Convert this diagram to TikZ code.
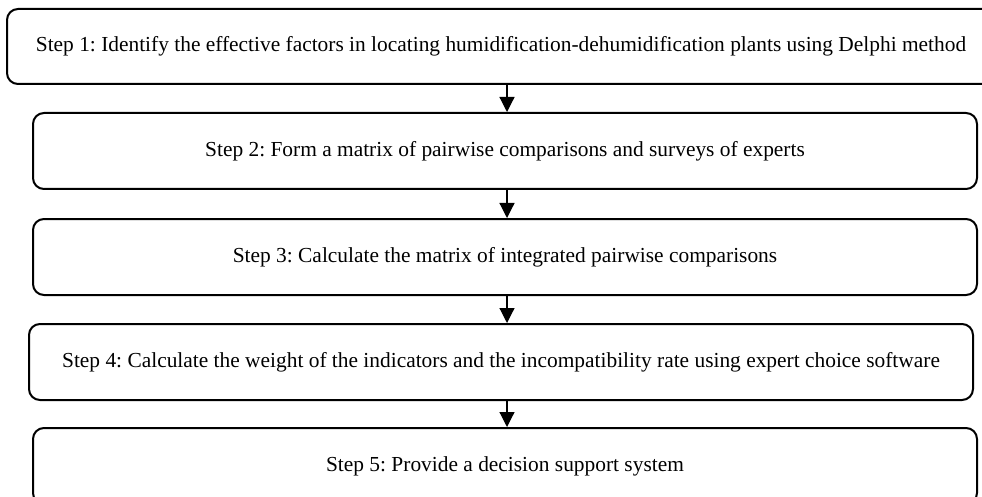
\documentclass[tikz,border=0pt]{standalone}
\usepackage{fontspec}
\setmainfont{Liberation Serif}
\usetikzlibrary{arrows.meta}
\frenchspacing
\begin{document}
\begin{tikzpicture}[x=1pt,y=1pt,
  stepbox/.style={draw, line width=2pt, rounded corners=11pt, minimum height=76pt, inner sep=0pt, align=center, font=\fontsize{21.4}{25}\selectfont},
  arr/.style={line width=1.2pt, -{Triangle[width=15pt,length=15pt]}}]
\useasboundingbox (0,0) rectangle (982,-497);
\node[stepbox, minimum width=988pt, minimum height=75pt] (b1) at (501,-46.5) {Step 1: Identify the effective factors in locating humidification-dehumidification plants using Delphi method};
\node[stepbox, minimum width=944pt] (b2) at (505,-151) {Step 2: Form a matrix of pairwise comparisons and surveys of experts};
\node[stepbox, minimum width=944pt] (b3) at (505,-257) {Step 3: Calculate the matrix of integrated pairwise comparisons};
\node[stepbox, minimum width=944pt] (b4) at (501,-362) {Step 4: Calculate the weight of the indicators and the incompatibility rate using expert choice software};
\node[stepbox, minimum width=944pt] (b5) at (505,-466) {Step 5: Provide a decision support system};
\coordinate (ax) at (507,0);
\draw[arr] (b1.south -| ax) -- (b2.north -| ax);
\draw[arr] (b2.south -| ax) -- (b3.north -| ax);
\draw[arr] (b3.south -| ax) -- (b4.north -| ax);
\draw[arr] (b4.south -| ax) -- (b5.north -| ax);
\end{tikzpicture}
\end{document}
